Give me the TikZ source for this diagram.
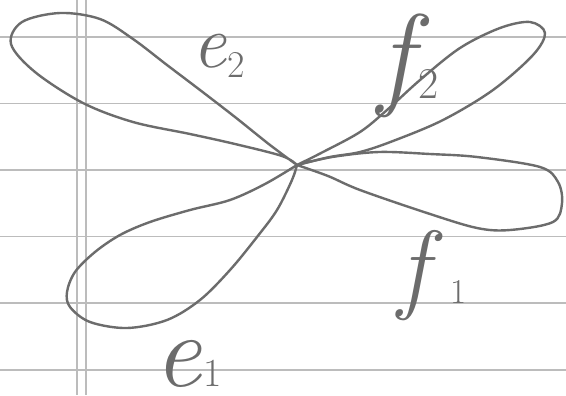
\documentclass[tikz,border=0pt]{standalone}
\definecolor{pencil}{RGB}{108,108,108}
\definecolor{ruled}{RGB}{188,188,188}
\begin{document}
\begin{tikzpicture}[x=1bp,y=-1bp,
  petal/.style={draw=pencil, line width=2.4bp, line cap=round, line join=round},
  rule/.style={draw=ruled, line width=1.4bp},
  margin/.style={draw=ruled, line width=2.4bp},
  lab/.style={text=pencil, inner sep=0pt, anchor=base west}]
\fill[white] (0,0) rectangle (566,395);
\useasboundingbox (0,0) rectangle (566,395);
% ruled paper
\foreach \yy in {37,103.5,170,236.5,303,370}
  \draw[rule] (0,\yy) -- (566,\yy);
\draw[margin] (77,0) -- (77,395);
\draw[margin] (86,0) -- (86,395);
% vertex
\coordinate (v) at (297,165);
% loop e2
\draw[petal] plot[smooth, tension=0.55] coordinates {(v) (282,156) (235,144) (190,134) (133,122) (83,103) (35,72) (11,44) (22,22) (60,13) (100,19) (133,39) (167,65) (200,90) (235,117) (270,145) (v)};
% loop f2
\draw[petal] plot[smooth, tension=0.55] coordinates {(v) (323,152) (360,132) (387,110) (420,80) (460,48) (500,28) (530,22) (545,33) (533,55) (493,90) (443,120) (393,141) (360,152) (330,157) (v)};
% loop f1
\draw[petal] plot[smooth, tension=0.55] coordinates {(v) (332,157) (379,152) (430,154) (477,157) (540,167) (558,182) (562,203) (553,222) (510,230) (477,228) (427,213) (360,190) (328,176) (v)};
% loop e1
\draw[petal] plot[smooth, tension=0.55] coordinates {(v) (292,180) (277,210) (257,237) (230,270) (200,300) (167,320) (127,328) (90,322) (70,307) (67,292) (75,272) (95,252) (120,235) (150,222) (190,210) (230,200) (265,184) (v)};
% labels
\node[lab] (le2) at (192,67) {\fontsize{76}{76}\selectfont\itshape e\upshape\kern1bp\raisebox{-10bp}{\fontsize{38}{38}\selectfont 2}};
\node[lab] (lf2) at (378,94) {\fontsize{115}{115}\selectfont\itshape f\upshape\kern6bp\raisebox{-4bp}{\fontsize{44}{44}\selectfont 2}};
\node[lab] (lf1) at (398,300) {\fontsize{100}{100}\selectfont\itshape f\upshape\kern22bp\raisebox{-3bp}{\fontsize{35}{35}\selectfont 1}};
\node[lab] (le1) at (154,386) {\fontsize{105}{105}\selectfont\itshape e\upshape\kern2bp{\fontsize{40}{40}\selectfont 1}};
\end{tikzpicture}
\end{document}
